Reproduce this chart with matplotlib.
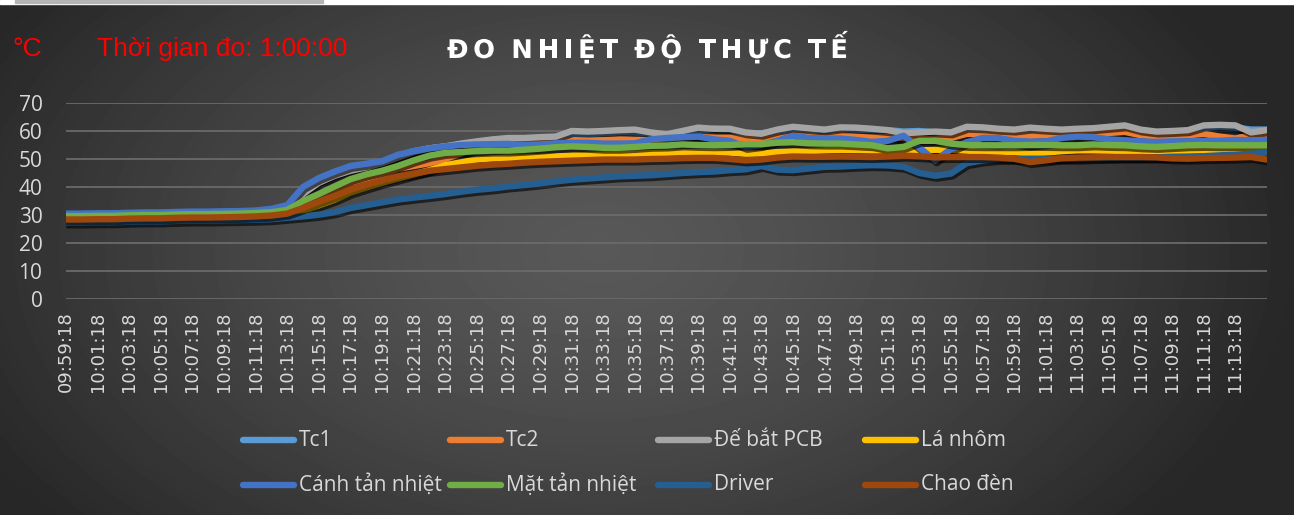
import numpy as np
import matplotlib
matplotlib.use("Agg")
import matplotlib.pyplot as plt
from matplotlib import patheffects as pe
from matplotlib.lines import Line2D
from matplotlib.patches import Rectangle
from matplotlib import font_manager
from matplotlib.font_manager import FontProperties

# ---------------- data ----------------
minutes = list(range(77))  # sample index: minutes after 09:59:18

tick_labels = ["09:59:18", "10:01:18", "10:03:18", "10:05:18", "10:07:18", "10:09:18",
               "10:11:18", "10:13:18", "10:15:18", "10:17:18", "10:19:18", "10:21:18",
               "10:23:18", "10:25:18", "10:27:18", "10:29:18", "10:31:18", "10:33:18",
               "10:35:18", "10:37:18", "10:39:18", "10:41:18", "10:43:18", "10:45:18",
               "10:47:18", "10:49:18", "10:51:18", "10:53:18", "10:55:18", "10:57:18",
               "10:59:18", "11:01:18", "11:03:18", "11:05:18", "11:07:18", "11:09:18",
               "11:11:18", "11:13:18"]
tick_pos = list(range(0, 75, 2))

series_names = ["Tc1", "Tc2", "Đế bắt PCB", "Lá nhôm",
                "Cánh tản nhiệt", "Mặt tản nhiệt", "Driver", "Chao đèn"]
series_colors = ["#5B9BD5", "#ED7D31", "#A5A5A5", "#FFC000",
                 "#4472C4", "#70AD47", "#255E91", "#9E480E"]

tc1 = [30.3, 30.3, 30.4, 30.4, 30.6, 30.7, 30.7, 30.9, 31.0, 31.0, 31.1, 31.2, 31.3, 31.6,
       33.0, 38.5, 42.3, 44.8, 46.6, 47.8, 49.0, 51.0, 52.8, 53.8,
       54.5, 55.2, 55.8, 56.2, 56.8, 57.0, 57.2, 57.5, 58.5, 58.8,
       59.2, 59.5, 59.6, 59.0, 58.5, 59.3, 60.0, 60.8, 60.5, 59.0,
       59.2, 60.0, 60.8, 60.5, 60.2, 60.8, 60.5, 60.3, 60.3, 59.8,
       60.0, 59.5, 59.0, 60.5, 60.5, 60.0, 60.0, 60.5, 60.2, 60.0,
       60.3, 60.5, 60.8, 61.2, 60.3, 59.5, 59.8, 60.0, 61.0, 61.5,
       61.2, 60.5, 60.5]
tc2 = [29.6, 29.6, 29.7, 29.7, 29.9, 30.0, 30.0, 30.2, 30.3, 30.3, 30.4, 30.5, 30.6, 30.8,
       31.0, 33.5, 36.0, 38.5, 41.5, 43.0, 44.5, 46.5, 47.5, 48.5,
       50.0, 52.0, 54.0, 55.5, 55.8, 56.0, 56.2, 56.4, 56.5, 56.7,
       56.8, 57.0, 56.8, 56.8, 57.0, 57.8, 58.0, 58.0, 57.8, 57.3,
       56.8, 57.8, 58.5, 58.3, 57.8, 58.5, 58.0, 57.8, 57.8, 57.5,
       57.2, 57.0, 57.5, 59.0, 59.0, 58.8, 58.5, 58.3, 58.5, 58.8,
       59.0, 59.0, 59.3, 59.7, 58.5, 58.0, 58.3, 58.5, 59.0, 58.0,
       57.3, 58.5, 57.9]
de_pcb = [30.2, 30.2, 30.3, 30.3, 30.5, 30.6, 30.6, 30.8, 30.9, 30.9, 31.0, 31.1, 31.2, 31.8,
          32.5, 37.5, 41.5, 44.0, 45.8, 47.0, 48.5, 50.5, 52.5, 53.8,
          54.5, 55.5, 56.3, 57.0, 57.5, 57.5, 57.8, 58.0, 60.0, 59.8,
          60.0, 60.3, 60.5, 59.5, 58.8, 60.0, 61.2, 60.8, 60.8, 59.5,
          59.0, 60.5, 61.5, 61.0, 60.5, 61.3, 61.2, 60.8, 60.3, 59.2,
          59.5, 59.8, 59.5, 61.5, 61.3, 60.8, 60.5, 61.2, 60.8, 60.5,
          60.8, 61.0, 61.5, 62.0, 60.5, 59.8, 60.0, 60.3, 62.0, 62.2,
          62.0, 59.5, 60.3]
la_nhom = [28.3, 28.3, 28.4, 28.4, 28.6, 28.7, 28.7, 28.9, 29.0, 29.0, 29.1, 29.2, 29.3, 29.5,
           30.0, 31.5, 33.5, 35.5, 38.0, 39.8, 41.5, 43.0, 44.5, 46.0,
           47.8, 48.8, 49.8, 50.2, 50.4, 50.5, 50.7, 51.0, 51.2, 51.4,
           51.6, 51.8, 51.9, 52.1, 52.2, 52.4, 52.5, 52.5, 52.3, 51.9,
           52.0, 52.5, 52.7, 52.8, 53.1, 53.3, 53.2, 53.1, 53.1, 53.1,
           53.1, 53.3, 53.3, 53.0, 52.5, 52.3, 52.5, 51.9, 52.3, 52.8,
           53.1, 53.1, 53.0, 52.8, 52.8, 52.9, 53.0, 53.0, 53.1, 53.1,
           53.1, 53.1, 52.9]
canh = [30.5, 30.5, 30.6, 30.6, 30.8, 30.9, 30.9, 31.1, 31.2, 31.2, 31.3, 31.4, 31.6, 32.2,
        33.5, 40.0, 43.2, 45.5, 47.5, 48.3, 49.2, 51.5, 52.8, 53.8,
        54.5, 55.0, 55.2, 55.3, 55.4, 55.0, 55.2, 55.6, 55.8, 55.8,
        55.5, 55.5, 55.6, 57.0, 57.5, 57.8, 58.0, 57.0, 56.5, 54.3,
        55.0, 56.5, 58.3, 57.5, 57.3, 57.3, 56.8, 56.1, 56.5, 58.3,
        54.0, 49.5, 53.5, 56.0, 57.5, 57.5, 56.5, 56.2, 56.3, 57.5,
        58.0, 57.8, 57.0, 56.7, 56.3, 56.1, 56.3, 56.3, 56.5, 56.5,
        56.8, 56.7, 56.8]
mat = [29.6, 29.6, 29.7, 29.7, 29.9, 30.0, 30.0, 30.2, 30.3, 30.3, 30.4, 30.5, 30.7, 31.0,
       31.8, 35.0, 37.5, 40.2, 42.8, 44.5, 45.8, 47.5, 49.5, 51.2,
       52.2, 52.5, 52.8, 53.0, 53.0, 53.3, 53.7, 54.2, 54.5, 54.3,
       54.0, 54.0, 54.3, 54.7, 54.8, 55.2, 55.0, 54.9, 55.0, 55.3,
       55.3, 55.8, 56.0, 55.6, 55.5, 55.5, 55.2, 54.9, 53.8, 54.3,
       56.5, 56.5, 55.5, 55.0, 54.9, 54.9, 54.9, 55.0, 55.0, 54.9,
       54.9, 55.2, 55.0, 54.9, 54.5, 54.3, 54.6, 54.9, 55.0, 54.9,
       54.9, 54.9, 54.9]
driver = [27.3, 27.3, 27.4, 27.4, 27.6, 27.7, 27.7, 27.9, 28.0, 28.0, 28.1, 28.2, 28.3, 28.5,
          29.0, 29.5, 30.1, 31.0, 32.5, 33.5, 34.5, 35.5, 36.2, 36.8,
          37.5, 38.3, 39.0, 39.5, 40.2, 40.7, 41.3, 42.0, 42.6, 43.0,
          43.4, 43.8, 44.0, 44.2, 44.6, 45.0, 45.3, 45.5, 46.0, 46.3,
          47.5, 46.2, 46.0, 46.6, 47.2, 47.3, 47.6, 47.8, 47.7, 47.2,
          45.0, 44.0, 44.8, 48.5, 49.5, 50.0, 50.1, 50.1, 50.1, 50.1,
          50.1, 50.3, 50.4, 50.5, 50.5, 50.6, 50.7, 50.8, 51.0, 51.3,
          51.5, 51.9, 52.3]
chao = [28.4, 28.4, 28.5, 28.5, 28.7, 28.8, 28.8, 29.0, 29.1, 29.1, 29.2, 29.3, 29.5, 29.8,
        30.5, 32.5, 34.8, 36.8, 39.0, 40.8, 42.3, 43.8, 44.8, 45.8,
        46.4, 47.0, 47.6, 48.0, 48.3, 48.7, 49.0, 49.2, 49.4, 49.6,
        49.8, 49.8, 49.8, 50.0, 50.1, 50.3, 50.4, 50.4, 50.0, 49.5,
        49.8, 50.5, 50.9, 50.8, 50.8, 50.9, 50.8, 50.7, 50.9, 51.2,
        51.0, 50.6, 50.7, 50.7, 50.7, 50.5, 50.1, 48.9, 49.5, 50.3,
        50.5, 50.6, 50.7, 50.7, 50.7, 50.6, 50.2, 50.1, 50.3, 50.4,
        50.5, 50.7, 49.8]

series_values = [tc1, tc2, de_pcb, la_nhom, canh, mat, driver, chao]
y_ticks = [0, 10, 20, 30, 40, 50, 60, 70]

title_text = "ĐO NHIỆT ĐỘ THỰC TẾ"
unit_text = "°C"
duration_text = "Thời gian đo: 1:00:00"

# ---------------- fonts ----------------
available = {f.name for f in font_manager.fontManager.ttflist}
ui_font = "Open Sans" if "Open Sans" in available else "DejaVu Sans"
arial_font = "Liberation Sans" if "Liberation Sans" in available else "DejaVu Sans"

W, H = 1294, 515
fig = plt.figure(figsize=(W / 100, H / 100), dpi=100)


def fx(x):
    return x / W


def fy(y):
    return 1 - y / H


# ---------------- background gradient ----------------
bg = fig.add_axes([0, 0, 1, 1], zorder=-10)
yy, xx = np.mgrid[0:H, 0:W]
r = np.sqrt(((xx - 600) / 700.0) ** 2 + ((yy - 250) / 430.0) ** 2)
r = np.clip(r, 0, 1)
c0, c1 = 0x58 / 255, 0x27 / 255
val = c0 + (c1 - c0) * r ** 1.4
bg.imshow(val, cmap="gray", vmin=0, vmax=1, extent=[0, W, H, 0], aspect="auto",
          interpolation="bilinear")
bg.set_xlim(0, W)
bg.set_ylim(H, 0)
bg.axis("off")
bg.add_patch(Rectangle((0, 0), W, 3.5, color="white", zorder=5))
bg.add_patch(Rectangle((15, 0), 308, 2.5, color="#b5b5b5", zorder=6))

# ---------------- main axes ----------------
ax = fig.add_axes([fx(66), fy(299), (1267 - 66) / W, (299 - 103) / H])
ax.patch.set_alpha(0)
ax.set_xlim(0, 76)
ax.set_ylim(0, 70)
for s in ax.spines.values():
    s.set_visible(False)
ax.set_yticks(y_ticks)
ax.yaxis.grid(True, color="#6a6a6a", lw=1.3)
ax.set_axisbelow(True)
ax.tick_params(axis="both", length=0)
ax.tick_params(axis="y", pad=17, labelsize=15, labelcolor="#d9d9d9")
for t in ax.get_yticklabels():
    t.set_fontfamily(ui_font)
ax.set_xticks(tick_pos)
ax.set_xticklabels(tick_labels, rotation=90, fontsize=13, color="#d9d9d9",
                   family="DejaVu Sans")
ax.tick_params(axis="x", pad=9)

shadow = [pe.SimpleLineShadow(offset=(1.2, -2.0), shadow_color="black", alpha=0.6),
          pe.Normal()]
for name, color, vals in zip(series_names, series_colors, series_values):
    ax.plot(minutes, vals, color=color, lw=4.6, solid_joinstyle="round",
            solid_capstyle="round", path_effects=shadow, label=name)

# ---------------- texts ----------------
fig.text(fx(12), fy(56), unit_text, color="#FF0000", fontsize=19, family=arial_font,
         ha="left", va="baseline")
fig.text(fx(97), fy(56), duration_text, color="#FF0000", fontsize=19, family=arial_font,
         ha="left", va="baseline")

# title with letter spacing: measure glyph widths, then spread over target width
tprop = FontProperties(family="DejaVu Sans", weight="bold", size=18.5)
renderer = fig.canvas.get_renderer()
chars = []
widths = []
for ch in title_text:
    if ch == " ":
        chars.append(None)
        widths.append(7.0)
    else:
        t = fig.text(0, 0, ch, color="white", fontproperties=tprop, ha="left",
                     va="baseline",
                     path_effects=[pe.withSimplePatchShadow(offset=(1, -1), alpha=0.4)])
        widths.append(t.get_window_extent(renderer).width)
        chars.append(t)
target_w = 401
spacing = (target_w - sum(widths)) / (len(title_text) - 1)
x = 447
for t, w in zip(chars, widths):
    if t is not None:
        t.set_position((fx(x), fy(58)))
    x += w + spacing

# ---------------- legend (manual, Excel-like fixed columns) ----------------
col_x = [240, 447, 655, 862]
row_y = [440, 485]
for i, (name, color) in enumerate(zip(series_names, series_colors)):
    cx = col_x[i % 4]
    cy = row_y[i // 4]
    fig.add_artist(Line2D([fx(cx + 3), fx(cx + 54)], [fy(cy), fy(cy)], color=color,
                          lw=4.6, solid_capstyle="round", transform=fig.transFigure))
    fig.text(fx(cx + 59), fy(cy), name, color="#d9d9d9", fontsize=15,
             family=ui_font, ha="left", va="center")

fig.savefig("out.png", dpi=100)
